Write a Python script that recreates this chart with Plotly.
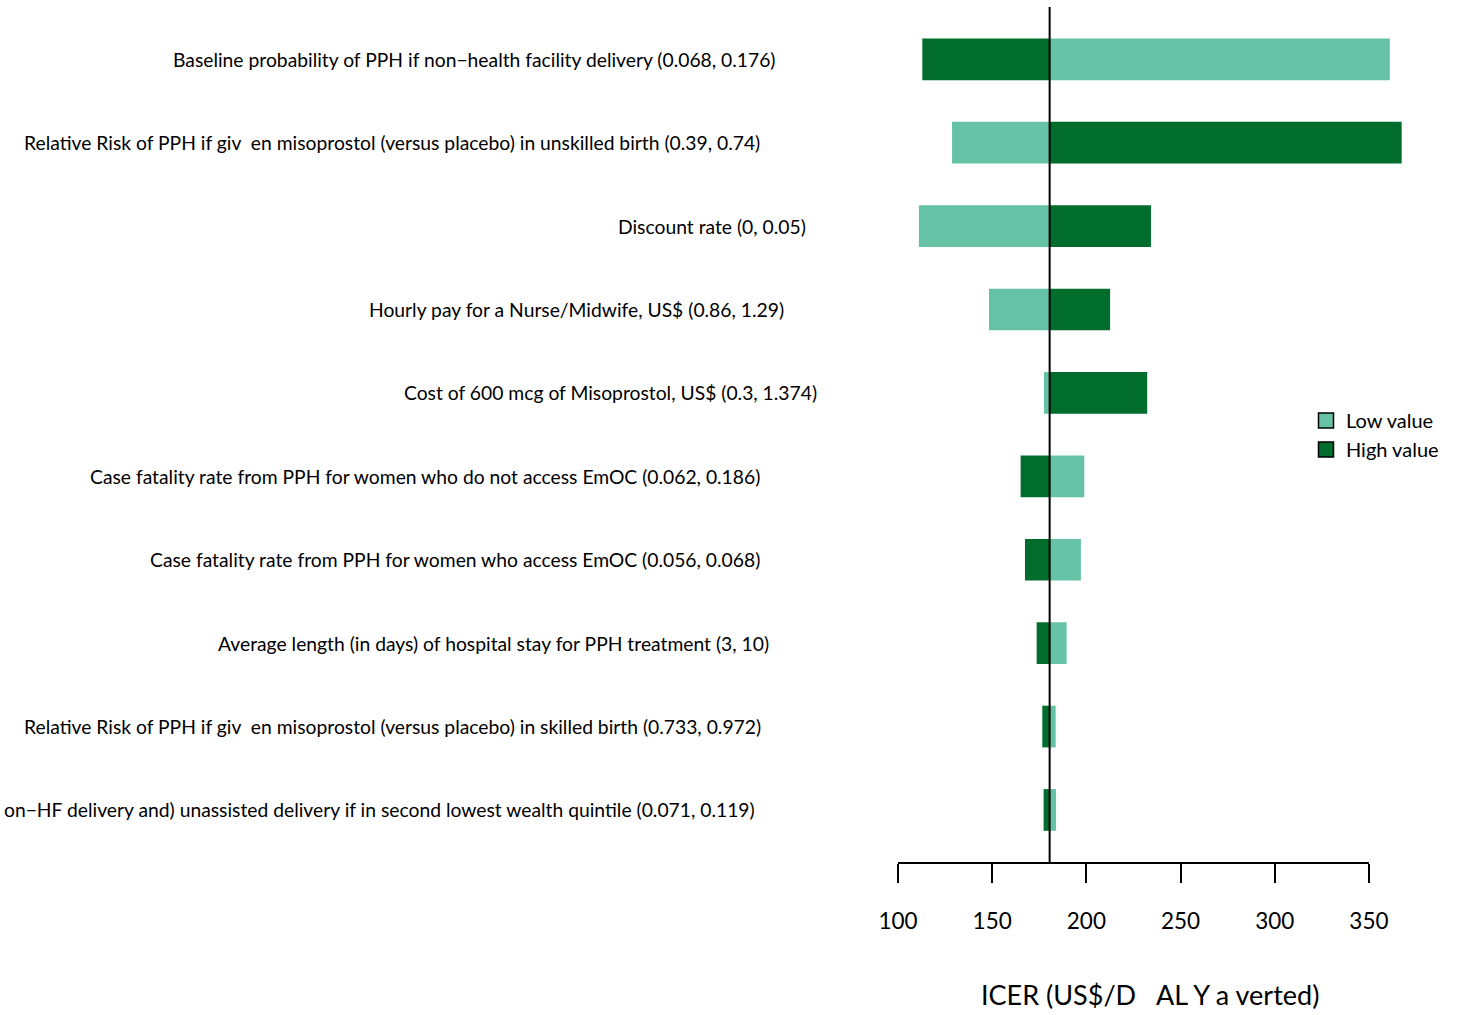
import plotly.graph_objects as go

# Tornado diagram: one-way sensitivity of the ICER to each model parameter
parameters = [
    "Baseline probability of PPH if non\u2212health facility delivery (0.068, 0.176)",
    "Relative Risk of PPH if giv\u00a0\u00a0en misoprostol (versus placebo) in unskilled birth (0.39, 0.74)",
    "Discount rate (0, 0.05)",
    "Hourly pay for a Nurse/Midwife, US$ (0.86, 1.29)",
    "Cost of 600 mcg of Misoprostol, US$ (0.3, 1.374)",
    "Case fatality rate from PPH for women who do not access EmOC (0.062, 0.186)",
    "Case fatality rate from PPH for women who access EmOC (0.056, 0.068)",
    "Average length (in days) of hospital stay for PPH treatment (3, 10)",
    "Relative Risk of PPH if giv\u00a0\u00a0en misoprostol (versus placebo) in skilled birth (0.733, 0.972)",
    "on\u2212HF delivery and) unassisted delivery if in second lowest wealth quintile (0.071, 0.119)",
]
icer_low_value = [361.1, 128.7, 111.1, 148.3, 177.5, 198.9, 197.1, 189.5, 183.7, 183.9]
icer_high_value = [112.9, 367.4, 234.3, 212.6, 232.3, 165.1, 167.4, 173.6, 176.6, 177.3]
base_icer = 180.5
tick_values = [100, 150, 200, 250, 300, 350]

LIGHT = "#66c2a4"
DARK = "#006d2c"
FONT = "Lato"

rows = list(range(1, len(parameters) + 1))

fig = go.Figure()

# bars are drawn outward from the base-case ICER
fig.add_trace(go.Bar(
    y=rows, x=[v - base_icer for v in icer_low_value], base=base_icer,
    orientation="h", width=0.5, marker=dict(color=LIGHT, line=dict(width=0)),
    showlegend=False, hoverinfo="skip",
))
fig.add_trace(go.Bar(
    y=rows, x=[v - base_icer for v in icer_high_value], base=base_icer,
    orientation="h", width=0.5, marker=dict(color=DARK, line=dict(width=0)),
    showlegend=False, hoverinfo="skip",
))

# legend keys
for name, col in [("Low value", LIGHT), ("High value", DARK)]:
    fig.add_trace(go.Scatter(
        x=[None], y=[None], mode="markers", name=name,
        marker=dict(symbol="square", size=15, color=col, line=dict(color="black", width=1.5)),
    ))

# parameter labels, right-aligned beside their rows
label_right_px = [778, 762, 808, 786, 819, 762, 762, 771, 763, 757]
plot_left_px = 898
annotations = []
for r, text, rx in zip(rows, parameters, label_right_px):
    annotations.append(dict(
        x=0, xref="paper", y=r, yref="y", text=text, showarrow=False,
        xanchor="right", yanchor="middle", xshift=rx - plot_left_px,
        font=dict(family=FONT, size=19.3, color="black"),
    ))

annotations.append(dict(
    x=(1150 - plot_left_px) / 518, xref="paper", y=0, yref="paper",
    yshift=-131, text="ICER (US$/D\u00a0\u00a0\u00a0AL Y a verted)", showarrow=False,
    xanchor="center", yanchor="middle",
    font=dict(family=FONT, size=27, color="black"),
))

shapes = [
    # base-case reference line
    dict(type="line", xref="x", yref="paper", x0=base_icer, x1=base_icer, y0=0, y1=1,
         line=dict(color="black", width=2)),
    # horizontal axis line spanning the tick range
    dict(type="line", xref="x", yref="paper", x0=tick_values[0], x1=tick_values[-1], y0=0, y1=0,
         line=dict(color="black", width=2)),
]

fig.update_layout(
    width=1461, height=1015,
    margin=dict(l=898, r=45, t=7, b=152),
    paper_bgcolor="white", plot_bgcolor="white",
    barmode="overlay",
    annotations=annotations,
    shapes=shapes,
    legend=dict(
        x=(1306 - plot_left_px) / 518, xanchor="left",
        y=(863 - 401) / 856, yanchor="top",
        font=dict(family=FONT, size=20, color="black"),
        bgcolor="rgba(0,0,0,0)", tracegroupgap=0,
    ),
    xaxis=dict(
        range=[100, 375], tickvals=tick_values, ticktext=[str(t) for t in tick_values],
        showgrid=False, zeroline=False, showline=False,
        ticks="outside", ticklen=19, tickwidth=2, tickcolor="black",
        tickfont=dict(family=FONT, size=22.5, color="black"),
        ticklabelstandoff=19,
    ),
    yaxis=dict(
        range=[10.636, 0.373], showgrid=False, zeroline=False, showline=False,
        showticklabels=False, ticks="",
    ),
)

fig.write_html("out.html")
